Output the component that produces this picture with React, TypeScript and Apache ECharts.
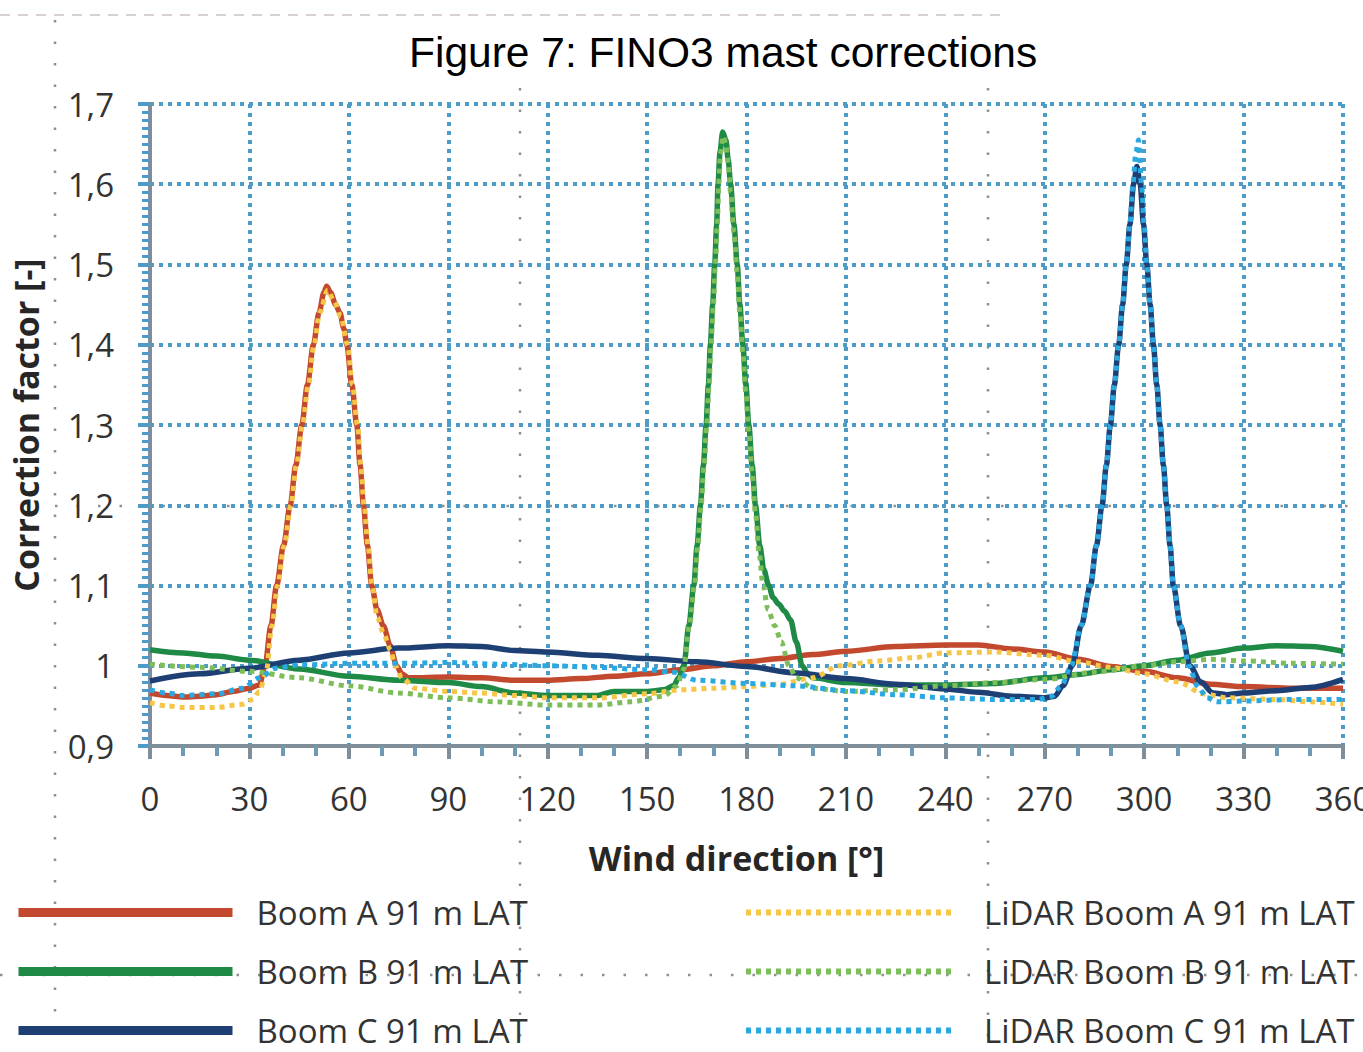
import React, { useEffect, useRef } from "react";
import * as echarts from "echarts";

// ---------- data ----------
const seriesNames = [
  "Boom A 91 m LAT",
  "Boom B 91 m LAT",
  "Boom C 91 m LAT",
  "LiDAR Boom A 91 m LAT",
  "LiDAR Boom B 91 m LAT",
  "LiDAR Boom C 91 m LAT",
];

const xTicks = [0, 30, 60, 90, 120, 150, 180, 210, 240, 270, 300, 330, 360];
const yTicks = [0.9, 1.0, 1.1, 1.2, 1.3, 1.4, 1.5, 1.6, 1.7];

const boomA: [number, number][] = [
  [0, 0.966], [5, 0.963], [10, 0.961], [15, 0.962], [20, 0.964], [25, 0.968], [30, 0.972], [33, 0.976],
  [34.7, 1.0], [36.5, 1.05], [38.2, 1.1], [40.3, 1.15], [42.3, 1.2], [44, 1.25], [45.8, 1.3], [47.5, 1.35],
  [49.3, 1.4], [51, 1.44], [52.5, 1.465], [53.3, 1.473], [54.5, 1.465], [56, 1.45], [57.3, 1.44], [58.5, 1.42],
  [59.4, 1.4], [60.9, 1.35], [62.4, 1.3], [63.4, 1.25], [64.4, 1.2], [65.6, 1.15], [66.9, 1.1], [68.5, 1.07],
  [70.4, 1.05], [72.5, 1.025], [74.4, 1.0], [76, 0.99], [78, 0.985], [90, 0.986], [100, 0.985], [110, 0.982],
  [120, 0.982], [130, 0.984], [140, 0.987], [150, 0.99], [160, 0.995], [170, 1.0], [180, 1.005], [190, 1.009],
  [200, 1.014], [210, 1.018], [225, 1.024], [240, 1.026], [250, 1.026], [260, 1.021], [270, 1.017], [280, 1.008],
  [290, 0.999], [300, 0.993], [310, 0.985], [320, 0.977], [330, 0.974], [345, 0.972], [360, 0.972],
];

const boomB: [number, number][] = [
  [0, 1.02], [10, 1.016], [20, 1.012], [30, 1.007], [45, 0.996], [60, 0.987], [75, 0.982], [90, 0.979],
  [100, 0.974], [110, 0.966], [120, 0.963], [135, 0.963], [140, 0.968], [150, 0.968], [155, 0.97], [158, 0.975],
  [159.5, 0.985], [161.1, 1.0], [162.6, 1.05], [164.1, 1.1], [165.1, 1.15], [166.1, 1.2], [167, 1.25], [167.8, 1.3],
  [168.5, 1.35], [169.1, 1.4], [169.8, 1.45], [170.4, 1.5], [171, 1.55], [171.4, 1.6], [172, 1.64], [172.8, 1.665],
  [173.8, 1.655], [174.5, 1.63], [175.2, 1.6], [176.2, 1.55], [177.2, 1.5], [178, 1.45], [178.9, 1.4], [179.8, 1.35],
  [180.7, 1.3], [181.7, 1.25], [182.7, 1.2], [184, 1.15], [185.2, 1.12], [186.7, 1.1], [188, 1.085], [189.7, 1.077],
  [191.5, 1.068], [193.3, 1.057], [195, 1.03], [196.8, 1.0], [198.5, 0.99], [200, 0.985], [210, 0.979], [225, 0.976],
  [240, 0.976], [255, 0.978], [270, 0.985], [280, 0.989], [290, 0.995], [300, 1.0], [310, 1.007], [320, 1.016],
  [330, 1.022], [340, 1.025], [350, 1.024], [360, 1.018],
];

const boomC: [number, number][] = [
  [0, 0.981], [15, 0.99], [30, 0.997], [45, 1.007], [60, 1.016], [75, 1.022], [90, 1.025], [100, 1.024],
  [110, 1.019], [120, 1.017], [135, 1.013], [150, 1.009], [165, 1.005], [180, 0.999], [195, 0.991], [210, 0.984],
  [225, 0.977], [240, 0.971], [250, 0.967], [260, 0.962], [270, 0.96], [273, 0.962], [275.5, 0.975], [278.3, 1.0],
  [281, 1.05], [283.8, 1.1], [285.6, 1.15], [287.3, 1.2], [288.6, 1.25], [289.8, 1.3], [291, 1.35], [292.3, 1.4],
  [293.5, 1.45], [294.6, 1.5], [295.7, 1.55], [296.8, 1.6], [297.8, 1.622], [298.8, 1.6], [299.8, 1.55], [300.8, 1.5],
  [301.8, 1.45], [302.8, 1.4], [303.8, 1.35], [304.8, 1.3], [305.8, 1.25], [306.8, 1.2], [307.8, 1.15], [308.8, 1.1],
  [311, 1.05], [313.8, 1.0], [317, 0.98], [320.8, 0.966], [325, 0.964], [330, 0.966], [340, 0.969], [350, 0.973],
  [360, 0.983],
];

const lidarA: [number, number][] = [
  [0, 0.954], [5, 0.95], [10, 0.948], [20, 0.948], [28, 0.952], [31, 0.958], [33, 0.968], [35, 0.99],
  [36.8, 1.05], [38.5, 1.1], [40.5, 1.15], [42.5, 1.2], [44.2, 1.25], [46, 1.3], [47.8, 1.35], [49.5, 1.4],
  [51.2, 1.44], [53.6, 1.468], [55.5, 1.455], [57.6, 1.435], [59.6, 1.4], [61.1, 1.35], [62.6, 1.3], [63.6, 1.25],
  [64.6, 1.2], [65.8, 1.15], [67, 1.1], [68.6, 1.06], [70.5, 1.04], [72.5, 1.02], [74, 1.0], [76, 0.985],
  [80, 0.972], [90, 0.968], [100, 0.966], [110, 0.963], [120, 0.96], [135, 0.96], [150, 0.965], [160, 0.97],
  [170, 0.972], [180, 0.974], [190, 0.977], [200, 0.985], [208, 1.0], [220, 1.006], [230, 1.01], [240, 1.016],
  [255, 1.017], [270, 1.013], [280, 1.005], [290, 0.998], [300, 0.99], [310, 0.98], [318, 0.965], [325, 0.96],
  [340, 0.958], [350, 0.955], [360, 0.952],
];

const lidarB: [number, number][] = [
  [0, 1.002], [15, 0.998], [30, 0.993], [45, 0.985], [60, 0.975], [75, 0.966], [90, 0.96], [105, 0.955],
  [120, 0.951], [135, 0.951], [145, 0.955], [155, 0.962], [159, 0.975], [161, 0.995], [162.8, 1.05], [164.3, 1.1],
  [165.3, 1.15], [166.3, 1.2], [167.2, 1.25], [168, 1.3], [168.7, 1.35], [169.3, 1.4], [170, 1.45], [170.6, 1.5],
  [171.2, 1.55], [171.6, 1.6], [172.2, 1.64], [173, 1.66], [173.8, 1.65], [174.5, 1.625], [175.2, 1.59], [176.2, 1.54],
  [177.2, 1.49], [178, 1.44], [178.9, 1.39], [179.8, 1.34], [180.7, 1.29], [181.7, 1.24], [182.7, 1.19], [183.8, 1.14],
  [185, 1.1], [186.5, 1.07], [188.5, 1.05], [190.5, 1.03], [192.8, 1.0], [195, 0.985], [200, 0.972], [210, 0.968],
  [225, 0.97], [240, 0.975], [255, 0.979], [270, 0.983], [285, 0.992], [300, 1.0], [310, 1.005], [320, 1.008],
  [330, 1.006], [345, 1.003], [360, 1.002],
];

const lidarC: [number, number][] = [
  [0, 0.97], [5, 0.966], [10, 0.963], [20, 0.965], [28, 0.972], [33, 0.985], [38, 0.997], [45, 1.001],
  [60, 1.003], [75, 1.003], [90, 1.004], [105, 1.002], [120, 1.0], [135, 0.998], [150, 0.995], [158, 0.992],
  [165, 0.982], [180, 0.978], [195, 0.975], [210, 0.969], [225, 0.964], [240, 0.96], [255, 0.958], [268, 0.958],
  [272, 0.962], [275, 0.975], [278, 1.0], [281, 1.05], [283.8, 1.1], [285.6, 1.15], [287.3, 1.2], [288.6, 1.25],
  [289.8, 1.3], [291, 1.35], [292.3, 1.4], [293.5, 1.45], [294.6, 1.5], [295.7, 1.55], [296.6, 1.6], [297.5, 1.64],
  [298.3, 1.655], [299.2, 1.6], [300, 1.55], [300.8, 1.5], [301.8, 1.45], [302.8, 1.4], [303.8, 1.35], [304.8, 1.3],
  [305.8, 1.25], [306.8, 1.2], [307.8, 1.15], [308.8, 1.1], [311, 1.05], [313.5, 1.0], [316, 0.975], [319, 0.96],
  [322, 0.955], [330, 0.956], [345, 0.958], [360, 0.958],
];

const seriesData = [boomA, boomB, boomC, lidarA, lidarB, lidarC];
const seriesColors = ["#C2482E", "#1E8A45", "#1D3F73", "#F6C648", "#7DBE5A", "#2AA8E0"];
const seriesDotted = [false, false, false, true, true, true];

// ---------- component ----------
export default function App() {
  const ref = useRef<HTMLDivElement>(null);

  useEffect(() => {
    if (!ref.current) return;
    document.body.style.margin = "0";
    const chart = echarts.init(ref.current, undefined, { renderer: "svg" });

    const gridBlue = "#4F9BC8";
    const axisGrey = "#7F8E99";
    const uiFont = "'Open Sans', Lato, sans-serif";

    const fmtY = (v: number) => String(Math.round(v * 10) / 10).replace(".", ",");

    const series = seriesNames.map((name, i) => ({
      name,
      type: "line",
      data: seriesData[i],
      symbol: "none",
      smooth: 0.3,
      smoothMonotone: "x",
      z: seriesDotted[i] ? 3 : 2,
      lineStyle: {
        color: seriesColors[i],
        width: seriesDotted[i] ? 5 : 5.5,
        type: seriesDotted[i] ? [5, 5] : "solid",
        cap: "butt",
      },
      itemStyle: { color: seriesColors[i] },
    }));

    const dotLine = (x1: number, y1: number, x2: number, y2: number) => ({
      type: "line",
      silent: true,
      z: 0,
      shape: { x1, y1, x2, y2 },
      style: { stroke: "#333", lineWidth: 2.5, lineDash: [2.5, 19], opacity: 0.55 },
    });

    const legendText = {
      fontFamily: uiFont,
      fontSize: 33,
      color: "#333",
      lineHeight: 32,
    };

    chart.setOption({
      animation: false,
      backgroundColor: "#ffffff",
      title: {
        text: "Figure 7: FINO3 mast corrections",
        left: 404,
        top: 26,
        textStyle: {
          fontFamily: "'Liberation Sans', Arial, sans-serif",
          fontSize: 42.5,
          fontWeight: "normal",
          color: "#000",
        },
      },
      graphic: [
        dotLine(55, 20, 55, 1052),
        dotLine(520, 88, 520, 1052),
        dotLine(988, 88, 988, 1052),
        dotLine(55, 506, 1363, 506),
        dotLine(0, 975, 1363, 975),
        {
          type: "line",
          silent: true,
          z: 0,
          shape: { x1: 0, y1: 15, x2: 1000, y2: 15 },
          style: { stroke: "#d8d0d0", lineWidth: 2, lineDash: [10, 8] },
        },
      ],
      grid: {
        left: 150,
        right: 20,
        top: 104,
        bottom: 306,
        containLabel: false,
        outerBoundsMode: "none",
      },
      legend: [
        {
          data: seriesNames.slice(0, 3),
          orient: "vertical",
          left: 14,
          top: 896,
          height: 170,
          padding: 0,
          itemWidth: 214,
          itemHeight: 14,
          itemGap: 26,
          selectedMode: false,
          itemStyle: { opacity: 0 },
          lineStyle: { width: 9 },
          textStyle: { ...legendText, padding: [0, 0, 0, 19] },
        },
        {
          data: seriesNames.slice(3),
          orient: "vertical",
          left: 743,
          top: 896,
          height: 170,
          padding: 0,
          itemWidth: 205,
          itemHeight: 14,
          itemGap: 26,
          selectedMode: false,
          itemStyle: { opacity: 0 },
          lineStyle: { width: 6 },
          textStyle: { ...legendText, padding: [0, 0, 0, 28] },
        },
      ],
      xAxis: {
        type: "value",
        min: xTicks[0],
        max: xTicks[xTicks.length - 1],
        interval: xTicks[1] - xTicks[0],
        name: "Wind direction [°]",
        nameLocation: "middle",
        nameGap: 95,
        nameTextStyle: {
          fontFamily: uiFont,
          fontSize: 34,
          fontWeight: "bold",
          color: "#262626",
          padding: [0, 20, 0, 0],
        },
        axisLine: { show: true, lineStyle: { color: axisGrey, width: 4 } },
        axisTick: { show: true, length: 13, lineStyle: { color: axisGrey, width: 4 } },
        minorTick: { show: true, splitNumber: 3, length: 10, lineStyle: { color: "#6E9AB5", width: 4 } },
        axisLabel: { margin: 36, fontFamily: uiFont, fontSize: 33, color: "#333" },
        splitLine: { show: true, lineStyle: { color: gridBlue, width: 4, type: [4, 5] } },
      },
      yAxis: {
        type: "value",
        min: yTicks[0],
        max: yTicks[yTicks.length - 1],
        interval: 0.1,
        name: "Correction factor [-]",
        nameLocation: "middle",
        nameRotate: 90,
        nameGap: 106,
        nameTextStyle: { fontFamily: uiFont, fontSize: 34, fontWeight: "bold", color: "#262626", lineHeight: 36 },
        axisLine: { show: true, lineStyle: { color: axisGrey, width: 4 } },
        axisTick: { show: true, length: 12, lineStyle: { color: gridBlue, width: 4 } },
        minorTick: { show: true, splitNumber: 10, length: 8, lineStyle: { color: gridBlue, width: 3 } },
        axisLabel: { margin: 36, fontFamily: uiFont, fontSize: 33, color: "#333", formatter: fmtY },
        splitLine: { show: true, lineStyle: { color: gridBlue, width: 4, type: [4, 5] } },
      },
      series,
    });

    return () => chart.dispose();
  }, []);

  return (
    <div
      ref={ref}
      style={{ position: "absolute", left: 0, top: 0, width: 1363, height: 1052 }}
    />
  );
}
